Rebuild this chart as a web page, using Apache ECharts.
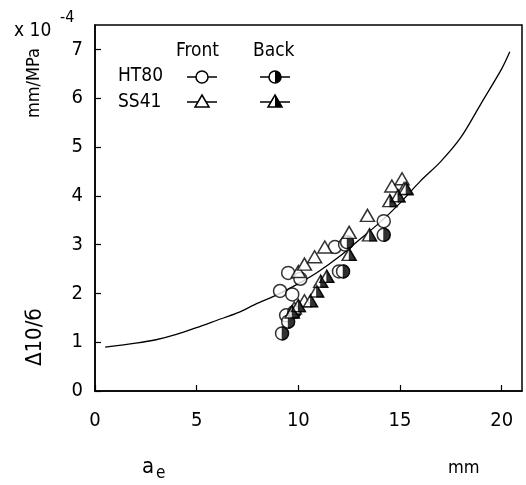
<!DOCTYPE html>
<html><head><meta charset="utf-8">
<script src="https://cdn.jsdelivr.net/npm/echarts@6/dist/echarts.min.js"></script>
<style>html,body{margin:0;padding:0;background:#fff}#c{width:526px;height:485px}</style>
</head><body><div id="c"></div>
<script>
var xTicks = [0, 5, 10, 15, 20];
var yTicks = [0, 1, 2, 3, 4, 5, 6, 7];
var curveX = [0.5, 2, 3, 4, 5, 6, 7, 8, 9, 10, 11, 12, 13, 14, 15, 16, 17, 18, 19, 20, 20.4];
var curveY = [0.9, 0.98, 1.05, 1.16, 1.3, 1.45, 1.6, 1.8, 1.98, 2.2, 2.45, 2.75, 3.1, 3.45, 3.85, 4.3, 4.7, 5.2, 5.9, 6.6, 6.95];
var ht80FrontX = [9.1, 9.5, 9.7, 9.4, 10.1, 12.0, 11.8, 12.3, 14.2];
var ht80FrontY = [2.05, 2.42, 1.98, 1.55, 2.3, 2.45, 2.95, 3.0, 3.48];
var ht80BackX = [9.2, 9.5, 9.8, 12.2, 14.2, 12.4];
var ht80BackY = [1.18, 1.42, 1.62, 2.45, 3.2, 3.05];
var ss41FrontX = [10.0, 10.3, 10.8, 11.3, 12.5, 13.4, 14.6, 15.1, 15.2, 9.8, 10.3];
var ss41FrontY = [2.45, 2.6, 2.75, 2.95, 3.25, 3.6, 4.2, 4.35, 4.15, 1.7, 1.85];
var ss41BackX = [9.7, 10.0, 10.6, 10.9, 11.1, 11.4, 12.5, 13.5, 14.5, 14.9, 15.3];
var ss41BackY = [1.62, 1.75, 1.85, 2.05, 2.25, 2.35, 2.8, 3.2, 3.9, 4.0, 4.15];

function pairs(xs, ys) { return xs.map(function (x, i) { return [x, ys[i]]; }); }
var FONT = '"DejaVu Sans Condensed", "Liberation Sans Narrow", sans-serif';
var S = 13;
var TRI = 'path://M5,0 L10,9 L0,9 Z';
var HALFTRI = 'path://M0,0 L5,9 L0,9 Z';
var HALFCIRC = 'path://M0,0 A5,5 0 0 1 0,10 Z';

var chart = echarts.init(document.getElementById('c'));
var open = { color: '#fff', borderColor: '#000', borderWidth: 1.5 };
var fill = { color: '#000', borderColor: '#000', borderWidth: 1 };

function legendRow(y, sym) {
  var items = [];
  [202, 275].forEach(function (cx, k) {
    items.push({ type: 'line', shape: { x1: cx - 15, y1: y, x2: cx + 15, y2: y }, style: { stroke: '#000', lineWidth: 1.5 } });
    if (sym === 'c') {
      items.push({ type: 'circle', shape: { cx: cx, cy: y, r: 6 }, style: { fill: '#fff', stroke: '#000', lineWidth: 1.5 } });
      if (k === 1) items.push({ type: 'sector', shape: { cx: cx, cy: y, r: 6, startAngle: -Math.PI / 2, endAngle: Math.PI / 2 }, style: { fill: '#000' } });
    } else {
      items.push({ type: 'polygon', shape: { points: [[cx, y - 7], [cx + 7, y + 5], [cx - 7, y + 5]] }, style: { fill: '#fff', stroke: '#000', lineWidth: 1.5 } });
      if (k === 1) items.push({ type: 'polygon', shape: { points: [[cx, y - 7], [cx + 7, y + 5], [cx, y + 5]] }, style: { fill: '#000' } });
    }
  });
  return items;
}

var txt = function (x, y, t, size) {
  return { type: 'text', x: x, y: y, style: { text: t, font: size + 'px ' + FONT, fill: '#000' } };
};

var graphics = [
  txt(14, 22, 'x 10', 19),
  txt(60, 10, '-4', 16),
  txt(176, 42, 'Front', 19),
  txt(253, 42, 'Back', 19),
  txt(118, 67, 'HT80', 19),
  txt(118, 93, 'SS41', 19),
  { type: 'text', x: 25, y: 118, rotation: Math.PI / 2, style: { text: 'mm/MPa', font: '18px ' + FONT, fill: '#000' } },
  { type: 'text', x: 24, y: 366, rotation: Math.PI / 2, style: { text: 'Δ10/б', font: '22px ' + FONT, fill: '#000' } },
  txt(142, 456, 'a', 22),
  txt(156, 465, 'e', 17),
  txt(448, 459, 'mm', 18)
].concat(legendRow(77, 'c')).concat(legendRow(102, 't'));

chart.setOption({
  animation: false,
  backgroundColor: '#fff',
  grid: { left: 95, right: 4, top: 25, bottom: 94, show: true, borderColor: '#000', borderWidth: 1.5 },
  xAxis: {
    type: 'value', min: 0, max: 21, interval: 5,
    axisLine: { show: true, lineStyle: { color: '#000', width: 1.5 } },
    axisTick: { inside: true, length: 6, lineStyle: { color: '#000', width: 1.2 } },
    splitLine: { show: false },
    axisLabel: { color: '#000', fontSize: 20, fontFamily: FONT, margin: 20, showMaxLabel: false,
      formatter: function (v) { return xTicks.indexOf(v) >= 0 ? String(v) : ''; } }
  },
  yAxis: {
    type: 'value', min: 0, max: 7.5, interval: 1,
    axisLine: { show: true, lineStyle: { color: '#000', width: 1.5 } },
    axisTick: { inside: true, length: 6, lineStyle: { color: '#000', width: 1.2 } },
    splitLine: { show: false },
    axisLabel: { color: '#000', fontSize: 20, fontFamily: FONT, margin: 12, showMaxLabel: false,
      formatter: function (v) { return yTicks.indexOf(v) >= 0 ? String(v) : ''; } }
  },
  graphic: graphics,
  series: [
    { type: 'line', data: pairs(curveX, curveY), smooth: 0.3, showSymbol: false, lineStyle: { color: '#000', width: 1.3 }, z: 1 },
    { type: 'scatter', data: pairs(ht80FrontX, ht80FrontY), symbol: 'circle', symbolSize: S, itemStyle: open, z: 2 },
    { type: 'scatter', data: pairs(ht80BackX, ht80BackY), symbol: 'circle', symbolSize: S, itemStyle: open, z: 3 },
    { type: 'scatter', data: pairs(ht80BackX, ht80BackY), symbol: HALFCIRC, symbolSize: [S / 2, S], symbolOffset: [S / 4, 0], itemStyle: fill, z: 4 },
    { type: 'scatter', data: pairs(ss41FrontX, ss41FrontY), symbol: TRI, symbolSize: [S + 1, S - 1], itemStyle: open, z: 5 },
    { type: 'scatter', data: pairs(ss41BackX, ss41BackY), symbol: TRI, symbolSize: [S + 1, S - 1], itemStyle: open, z: 6 },
    { type: 'scatter', data: pairs(ss41BackX, ss41BackY), symbol: HALFTRI, symbolSize: [(S + 1) / 2, S - 1], symbolOffset: [(S + 1) / 4, 0], itemStyle: fill, z: 7 }
  ]
});
</script></body></html>
